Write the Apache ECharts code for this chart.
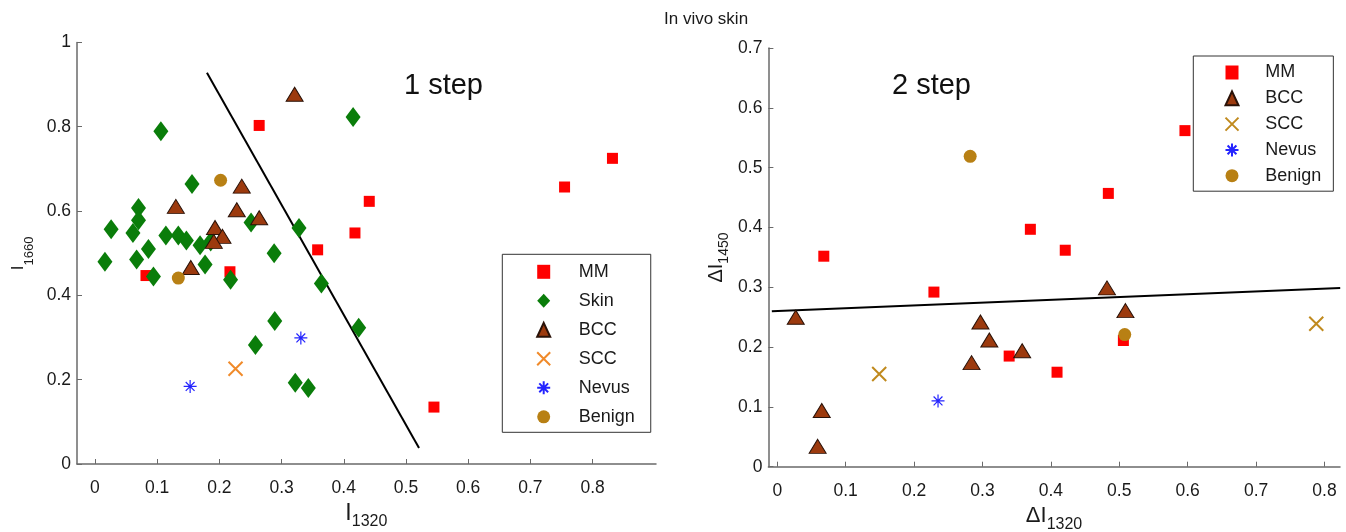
<!DOCTYPE html>
<html>
<head>
<meta charset="utf-8">
<script src="https://cdn.jsdelivr.net/npm/echarts@6/dist/echarts.min.js"></script>
<style>html,body{margin:0;padding:0;background:#fff}#c{width:1346px;height:532px}</style>
</head>
<body>
<div id="c"></div>
<script>
// ---------- data: left panel (1 step) ----------
const leftMM = [[0.082,0.447],[0.264,0.803],[0.217,0.456],[0.358,0.508],[0.418,0.548],[0.441,0.623],[0.755,0.657],[0.832,0.725],[0.545,0.135]];
const leftSkin = [[0.016,0.480],[0.026,0.557],[0.061,0.548],[0.067,0.485],[0.070,0.607],[0.070,0.578],[0.086,0.510],[0.094,0.445],[0.106,0.789],[0.114,0.542],[0.134,0.542],[0.147,0.530],[0.156,0.664],[0.169,0.519],[0.177,0.473],[0.186,0.528],[0.218,0.437],[0.251,0.573],[0.288,0.500],[0.328,0.560],[0.364,0.428],[0.415,0.823],[0.289,0.339],[0.258,0.282],[0.424,0.323],[0.322,0.193],[0.343,0.180]];
const leftBCC = [[0.321,0.877],[0.236,0.659],[0.130,0.611],[0.228,0.603],[0.264,0.584],[0.193,0.561],[0.205,0.540],[0.191,0.528],[0.154,0.466]];
const leftSCC = [[0.226,0.226]];
const leftNevus = [[0.153,0.184],[0.331,0.299]];
const leftBenign = [[0.202,0.673],[0.134,0.441]];
const leftLine = [[0.180,0.928],[0.521,0.038]];
const leftTicksX = [0,0.1,0.2,0.3,0.4,0.5,0.6,0.7,0.8];

// ---------- data: right panel (2 step) ----------
const rightMM = [[0.068,0.352],[0.229,0.292],[0.370,0.397],[0.339,0.185],[0.421,0.362],[0.409,0.158],[0.484,0.457],[0.596,0.562],[0.506,0.211]];
const rightBCC = [[0.027,0.250],[0.065,0.094],[0.059,0.034],[0.284,0.174],[0.297,0.242],[0.310,0.212],[0.358,0.194],[0.482,0.299],[0.509,0.261]];
const rightSCC = [[0.149,0.155],[0.788,0.239]];
const rightNevus = [[0.235,0.110]];
const rightBenign = [[0.282,0.519],[0.508,0.221]];
const rightLine = [[-0.008,0.260],[0.823,0.299]];
const rightTicksX = [0,0.1,0.2,0.3,0.4,0.5,0.6,0.7,0.8];

const leftLegendNames = ['MM','Skin','BCC','SCC','Nevus','Benign'];
const rightLegendNames = ['MM','BCC','SCC','Nevus','Benign'];

// ---------- styles ----------
const FONT = 'Liberation Sans, Arial, Helvetica, sans-serif';
const AX = '#6a6a6a';
const TXT = '#1a1a1a';
const C = {
  MM: '#ff0000', Skin: '#0a7d0a', BCCfill: '#9c3a0e', BCCedge: '#2a1208',
  SCCl: '#f08a2a', SCCr: '#c08a1e', Nevus: '#2424ff', Benign: '#b88014'
};
const XPATH = 'path://M0,0L10,10M10,0L0,10';
const STAR = 'path://M5,0L5,10M0,5L10,5M1.6,1.6L8.4,8.4M8.4,1.6L1.6,8.4';

function mkSeries(name, data, idx, opt) {
  return Object.assign({
    name, type: 'scatter', data, xAxisIndex: idx, yAxisIndex: idx,
    silent: true, emphasis: { disabled: true }, animation: false
  }, opt);
}
function styleMM(){ return { symbol: 'rect', symbolSize: 11, itemStyle: { color: C.MM, opacity: 1 } }; }
function styleSkin(){ return { symbol: 'diamond', symbolSize: [15, 20], itemStyle: { color: C.Skin, opacity: 1 } }; }
function styleBCC(){ return { symbol: 'triangle', symbolSize: [17, 14], itemStyle: { color: C.BCCfill, borderColor: C.BCCedge, borderWidth: 1, opacity: 1 } }; }
function styleSCC(col){ return { symbol: XPATH, symbolSize: 14, itemStyle: { color: 'rgba(0,0,0,0)', borderColor: col, borderWidth: 2, opacity: 1 } }; }
function styleNevus(){ return { symbol: STAR, symbolSize: 13, itemStyle: { color: 'rgba(0,0,0,0)', borderColor: C.Nevus, borderWidth: 1.2, opacity: 1 } }; }
function styleBenign(){ return { symbol: 'circle', symbolSize: 13, itemStyle: { color: C.Benign, opacity: 1 } }; }
function lineSeries(data, idx) {
  return { type: 'line', data, xAxisIndex: idx, yAxisIndex: idx, showSymbol: false, silent: true,
    animation: false, lineStyle: { color: '#000', width: 2 }, z: 1 };
}

// rich name: main glyph on top, subscript pushed down by a tall spacer token
function nameStyle(fa, fs, lineH, padding) {
  return {
    fontFamily: FONT, color: TXT, padding: padding || 0,
    rich: {
      a: { fontSize: fa, fontFamily: FONT, color: TXT, lineHeight: fa, verticalAlign: 'top' },
      s: { fontSize: fs, fontFamily: FONT, color: TXT, lineHeight: fs, verticalAlign: 'bottom' },
      p: { fontSize: 1, lineHeight: lineH, verticalAlign: 'middle' }
    }
  };
}
function xAxis(idx, min, max, ticks, name, gap, ns) {
  return {
    type: 'value', gridIndex: idx, min, max,
    axisLine: { show: true, onZero: false, lineStyle: { color: AX, width: 1.5 } },
    axisTick: { show: true, inside: true, length: 5, customValues: ticks, lineStyle: { color: AX } },
    axisLabel: { customValues: ticks, margin: 15, fontSize: 17.5, color: TXT, fontFamily: FONT },
    splitLine: { show: false },
    name, nameLocation: 'middle', nameGap: gap, nameTextStyle: ns
  };
}
function yAxis(idx, max, interval, name, gap, ns) {
  return {
    type: 'value', gridIndex: idx, min: 0, max, interval,
    axisLine: { show: true, onZero: false, lineStyle: { color: AX, width: 1.5 } },
    axisTick: { show: true, inside: true, length: 5, lineStyle: { color: AX } },
    axisLabel: { margin: 6, fontSize: 17.5, color: TXT, fontFamily: FONT },
    splitLine: { show: false },
    name, nameLocation: 'middle', nameGap: gap, nameRotate: 90, nameTextStyle: ns
  };
}
function legend(names, left, top, padding, gap, txtPad, overrides) {
  return {
    show: true, orient: 'vertical', left, top, padding, itemGap: gap,
    itemWidth: 13, itemHeight: 14, borderColor: '#333', borderWidth: 1, backgroundColor: '#fff',
    selectedMode: false,
    textStyle: { fontSize: 18, lineHeight: 19, color: TXT, fontFamily: FONT, padding: [0, 0, 0, txtPad] },
    data: names.map(n => overrides && overrides[n] ? Object.assign({ name: n }, overrides[n]) : n)
  };
}

const chart = echarts.init(document.getElementById('c'), null, { renderer: 'canvas' });
chart.setOption({
  animation: false,
  backgroundColor: '#fff',
  title: { text: 'In vivo skin', left: 659, top: 6, textStyle: { fontSize: 17, fontWeight: 'normal', color: TXT, fontFamily: FONT } },
  grid: [
    { left: 77, top: 42.4, width: 579, height: 421.6, containLabel: false, outerBoundsMode: 'none' },
    { left: 768.4, top: 48.1, width: 571.6, height: 418.6, containLabel: false, outerBoundsMode: 'none' }
  ],
  xAxis: [
    xAxis(0, -0.0289, 0.902, leftTicksX, '{a|I}{s|1320}{p| }', 32.5, nameStyle(23, 16, 28)),
    xAxis(1, -0.013, 0.8227, rightTicksX, '{a|\u0394I}{s|1320}{p| }', 28, nameStyle(22, 16, 28))
  ],
  yAxis: [
    yAxis(0, 1, 0.2, '{a|I}{s|1660}{p| }', 41.5, nameStyle(17, 13, 26)),
    yAxis(1, 0.7, 0.1, '{a|\u0394I}{s|1450}{p| }', 37, nameStyle(20, 14, 24.5))
  ],
  legend: [
    legend(leftLegendNames, 502.3, 254.3, [8, 16, 6, 33.9], 10, 23.5),
    legend(rightLegendNames, 1193.3, 56, [7, 12, 6, 31.2], 6.8, 21.8,
      { SCC: { itemStyle: { borderColor: C.SCCr } } })
  ],
  graphic: [
    { type: 'text', left: 404, top: 71, style: { text: '1 step', fontSize: 29, fontFamily: FONT, fill: '#111' } },
    { type: 'text', left: 892, top: 71, style: { text: '2 step', fontSize: 29, fontFamily: FONT, fill: '#111' } }
  ],
  series: [
    lineSeries(leftLine, 0),
    mkSeries('MM', leftMM, 0, styleMM()),
    mkSeries('Skin', leftSkin, 0, styleSkin()),
    mkSeries('BCC', leftBCC, 0, styleBCC()),
    mkSeries('SCC', leftSCC, 0, styleSCC(C.SCCl)),
    mkSeries('Nevus', leftNevus, 0, styleNevus()),
    mkSeries('Benign', leftBenign, 0, styleBenign()),
    lineSeries(rightLine, 1),
    mkSeries('MM', rightMM, 1, styleMM()),
    mkSeries('BCC', rightBCC, 1, styleBCC()),
    mkSeries('SCC', rightSCC, 1, styleSCC(C.SCCr)),
    mkSeries('Nevus', rightNevus, 1, styleNevus()),
    mkSeries('Benign', rightBenign, 1, styleBenign())
  ]
});
</script>
</body>
</html>
